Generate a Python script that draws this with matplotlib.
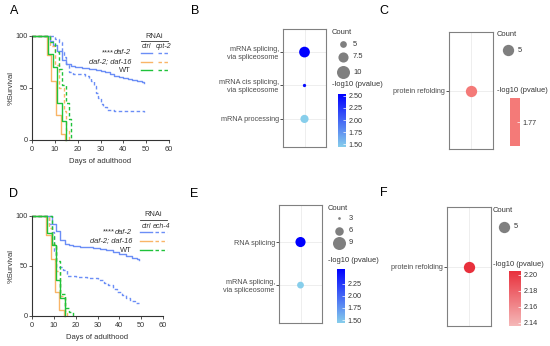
import matplotlib.pyplot as plt
import numpy as np
from matplotlib.colors import LinearSegmentedColormap, ListedColormap, Normalize
from matplotlib.cm import ScalarMappable

plt.rcParams['font.family'] = 'Liberation Sans'

W, H = 550, 346

# ---- survival data (panel A, RNAi cpt-2) ----
a_daf2_ctrl_days = [0, 8, 9, 11, 13, 15, 17, 19, 22, 25, 28, 30, 32, 34, 36, 38, 40, 42, 44, 46, 48, 49]
a_daf2_ctrl_surv = [100, 95, 91, 86, 77, 73, 71, 70, 69, 68, 67, 66, 65, 63, 62, 61, 60, 59, 58, 57, 56, 55]
a_daf2_cpt2_days = [0, 10, 12, 13, 14, 15, 16, 18, 23, 25, 26, 27, 28, 29, 30, 31, 33, 36, 49]
a_daf2_cpt2_surv = [100, 97, 94, 85, 80, 73, 65, 63, 62, 60, 57, 52, 45, 40, 35, 32, 29, 28, 27]
a_d16_ctrl_days = [0, 6.5, 8.5, 10.5, 12.5, 14.5]
a_d16_ctrl_surv = [100, 82, 57, 24, 6, 0]
a_d16_cpt2_days = [0, 8, 10, 12, 14, 15, 16]
a_d16_cpt2_surv = [100, 90, 72, 50, 28, 10, 0]
a_wt_ctrl_days = [0, 7, 9, 11, 13, 15]
a_wt_ctrl_surv = [100, 83, 70, 36, 18, 0]
a_wt_cpt2_days = [0, 8, 10, 12, 13, 15, 16, 17]
a_wt_cpt2_surv = [100, 94, 85, 68, 53, 36, 20, 0]

# ---- survival data (panel D, RNAi ech-4) ----
d_daf2_ctrl_days = [0, 9, 11, 13, 15, 17, 19, 22, 25, 28, 31, 34, 37, 40, 43, 46, 48, 49]
d_daf2_ctrl_surv = [100, 92, 85, 76, 72, 71, 70, 69, 69, 68, 67, 66, 64, 62, 60, 58, 57, 56]
d_daf2_ech4_days = [0, 8, 9, 10, 11, 14, 16, 20, 25, 30, 33, 35, 37, 39, 41, 43, 45, 47, 49]
d_daf2_ech4_surv = [100, 92, 84, 64, 49, 46, 40, 39, 38, 36, 33, 31, 27, 24, 21, 18, 15, 13, 13]
d_d16_ctrl_days = [0, 6.5, 8.5, 10.5, 12.5, 14.5]
d_d16_ctrl_surv = [100, 81, 57, 24, 6, 0]
d_d16_ech4_days = [0, 8, 9, 11, 13, 15, 16]
d_d16_ech4_surv = [100, 88, 72, 45, 20, 5, 0]
d_wt_ctrl_days = [0, 7, 9, 11, 13, 15]
d_wt_ctrl_surv = [100, 83, 71, 36, 18, 0]
d_wt_ech4_days = [0, 9, 10, 11, 13, 15, 17, 19]
d_wt_ech4_surv = [100, 80, 70, 55, 22, 8, 4, 0]

# ---- GO dot plots ----
b_terms = ["mRNA splicing,\nvia spliceosome", "mRNA cis splicing,\nvia spliceosome", "mRNA processing"]
b_count = [8, 3, 6]
b_pval = [2.54, 2.47, 1.44]
b_breaks = [5, 7.5, 10]
b_ticks = [1.50, 1.75, 2.00, 2.25, 2.50]

c_terms = ["protein refolding"]
c_count = [5]
c_pval = [1.77]

e_terms = ["RNA splicing", "mRNA splicing,\nvia spliceosome"]
e_count = [7, 5]
e_pval = [2.55, 1.44]
e_breaks = [3, 6, 9]
e_ticks = [1.50, 1.75, 2.00, 2.25]

f_terms = ["protein refolding"]
f_count = [5]
f_pval = [2.205]
f_range = [2.136, 2.205]
f_ticks = [2.14, 2.16, 2.18, 2.20]

BLUE = '#6B8EF6'
ORANGE = '#F9B567'
GREEN = '#1FC23A'
DASH = (0, (2.5, 1.8))
TXT = '#333333'

fig = plt.figure(figsize=(W / 100, H / 100), dpi=100)


def px_axes(l, t, r, b):
    return fig.add_axes([l / W, 1 - b / H, (r - l) / W, (b - t) / H])


def dsize(c, lo, hi, dmin, dmax):
    # diameter in px from count (area-style scale), returned as scatter size
    if hi == lo:
        d = dmax
    else:
        t = (np.sqrt(c) - np.sqrt(lo)) / (np.sqrt(hi) - np.sqrt(lo))
        d = dmin + (dmax - dmin) * t
    return (d * 0.72) ** 2


def survival(box, curves):
    ax = px_axes(*box)
    for days, surv, col, ls in curves:
        ax.step(days, surv, where='post', color=col, lw=1.0, ls=ls, clip_on=False)
    ax.set_xlim(0, 60)
    ax.set_ylim(0, 100)
    ax.set_xticks(range(0, 61, 10))
    ax.set_yticks([0, 50, 100])
    for s in ['top', 'right']:
        ax.spines[s].set_visible(False)
    for s in ['left', 'bottom']:
        ax.spines[s].set_linewidth(0.8)
        ax.spines[s].set_color(TXT)
    ax.tick_params(axis='x', length=2, width=0.6, labelsize=5.3, pad=2, colors=TXT)
    ax.tick_params(axis='y', length=2, width=0.6, labelsize=5.3, pad=1, colors=TXT)
    ax.set_xlabel("Days of adulthood", fontsize=5.5, labelpad=4, color=TXT)
    ax.set_ylabel("%Survival", fontsize=5.5, labelpad=0.5, color=TXT)
    return ax


survival((32, 36, 169, 140), [
    (a_daf2_ctrl_days, a_daf2_ctrl_surv, BLUE, '-'),
    (a_daf2_cpt2_days, a_daf2_cpt2_surv, BLUE, DASH),
    (a_d16_ctrl_days, a_d16_ctrl_surv, ORANGE, '-'),
    (a_d16_cpt2_days, a_d16_cpt2_surv, ORANGE, DASH),
    (a_wt_cpt2_days, a_wt_cpt2_surv, GREEN, DASH),
    (a_wt_ctrl_days, a_wt_ctrl_surv, GREEN, '-'),
])

survival((32, 216, 163, 316), [
    (d_daf2_ctrl_days, d_daf2_ctrl_surv, BLUE, '-'),
    (d_daf2_ech4_days, d_daf2_ech4_surv, BLUE, DASH),
    (d_d16_ctrl_days, d_d16_ctrl_surv, ORANGE, '-'),
    (d_d16_ech4_days, d_d16_ech4_surv, ORANGE, DASH),
    (d_wt_ech4_days, d_wt_ech4_surv, GREEN, DASH),
    (d_wt_ctrl_days, d_wt_ctrl_surv, GREEN, '-'),
])


def dotplot(box, terms, counts, pvals, cmap, norm, size_args, yl):
    ax = px_axes(*box)
    y = np.arange(len(terms), 0, -1)
    ax.axvline(1, color='#EBEBEB', lw=0.6, zorder=0)
    for yy in y:
        ax.axhline(yy, color='#EBEBEB', lw=0.6, zorder=0)
    ax.scatter(np.ones(len(y)), y, s=[dsize(c, *size_args) for c in counts],
               c=pvals, cmap=cmap, norm=norm, linewidths=0, zorder=3)
    ax.set_xlim(0.4, 1.6)
    ax.set_ylim(*yl)
    ax.set_xticks([])
    ax.set_yticks(y)
    ax.set_yticklabels(terms, fontsize=5.2, color='#4D4D4D')
    ax.tick_params(axis='y', length=2, width=0.6, color='#333333', pad=1)
    for s in ax.spines.values():
        s.set_color('#808080')
        s.set_linewidth(0.8)
    return ax


def colorbar(box, cmap, norm, ticks, labels=None):
    cax = px_axes(*box)
    cb = fig.colorbar(ScalarMappable(norm=norm, cmap=cmap), cax=cax)
    cb.outline.set_visible(False)
    cb.set_ticks(ticks)
    if labels is not None:
        cb.set_ticklabels(labels)
    else:
        cb.set_ticklabels(['%.2f' % t for t in ticks])
    cax.tick_params(length=2, width=0.5, color='white', direction='in', labelsize=5.2,
                    labelcolor=TXT, pad=2)
    return cb


blue_cmap = LinearSegmentedColormap.from_list('bl', ['#87CEEB', '#0000FF'])
b_norm = Normalize(1.44, 2.54)
dotplot((283, 29, 326, 147), b_terms, b_count, b_pval, blue_cmap, b_norm,
        (3, 10, 3.3, 13), (0.16, 3.69))
colorbar((338, 94, 346, 147), blue_cmap, b_norm, b_ticks)

e_norm = Normalize(1.44, 2.55)
dotplot((279, 205, 322, 323), e_terms, e_count, e_pval, blue_cmap, e_norm,
        (3, 9, 2.7, 13), (0.12, 2.86))
colorbar((337, 269, 345, 323), blue_cmap, e_norm, e_ticks)

c_cmap = ListedColormap(['#F47A78'])
c_norm = Normalize(1.76, 1.78)
dotplot((449, 32, 493, 149), c_terms, c_count, c_pval, c_cmap, c_norm,
        (5, 5, 11.3, 11.3), (0.4, 1.6))
colorbar((510, 98, 520, 146), c_cmap, c_norm, c_pval)

red_cmap = LinearSegmentedColormap.from_list('rd', ['#F5B8B8', '#E8303C'])
f_norm = Normalize(*f_range)
dotplot((447, 207, 491, 326), f_terms, f_count, f_pval, red_cmap, f_norm,
        (5, 5, 11.3, 11.3), (0.4, 1.6))
colorbar((509, 271, 521, 326), red_cmap, f_norm, f_ticks)

# ---- overlay for legends and panel letters (pixel coords) ----
ov = fig.add_axes([0, 0, 1, 1])
ov.set_xlim(0, W)
ov.set_ylim(H, 0)
ov.axis('off')

for lab, x, y in [('A', 14, 11), ('B', 195, 11), ('C', 384, 11),
                  ('D', 14, 194), ('E', 194, 194), ('F', 384, 193)]:
    ov.text(x, y, lab, fontsize=9, ha='center', va='center')

fs = 5.4


def surv_legend(gene, xr, yhead, yrow, lx, dx):
    ov.text((lx[0] + dx[1]) / 2, yhead, 'RNAi', fontsize=fs, ha='center', va='center', color=TXT)
    ov.plot([lx[0], dx[1]], [yhead + 4.5, yhead + 4.5], color=TXT, lw=0.6)
    ov.text((lx[0] + lx[1]) / 2, yhead + 11, 'ctrl', fontsize=fs - 0.4, ha='center', va='center',
            style='italic', color=TXT)
    ov.text((dx[0] + dx[1]) / 2 + 1, yhead + 11, gene, fontsize=fs - 0.4, ha='center', va='center',
            style='italic', color=TXT)
    t = ov.text(xr, yrow[0], 'daf-2', fontsize=fs, ha='right', va='center', style='italic', color=TXT)
    ov.annotate('****', xy=(0, 0.5), xycoords=t, fontsize=fs, ha='right', va='center', color=TXT)
    ov.text(xr, yrow[1], 'daf-2; daf-16', fontsize=fs, ha='right', va='center', style='italic', color=TXT)
    ov.text(xr, yrow[2], 'WT', fontsize=fs, ha='right', va='center', color=TXT)
    for yy, col in zip(yrow, [BLUE, ORANGE, GREEN]):
        ov.plot(lx, [yy, yy], color=col, lw=1.0)
        ov.plot(dx, [yy, yy], color=col, lw=1.0, ls=DASH)


surv_legend('cpt-2', 131, 36, [53, 62, 70], [141, 152], [158, 168])
surv_legend('ech-4', 132, 215, [232, 241, 250], [140, 152], [155, 167])


def size_legend(x0, ytitle, ys, breaks, size_args, ylog):
    ov.text(x0, ytitle, 'Count', fontsize=fs, ha='left', va='center', color=TXT)
    for yy, b in zip(ys, breaks):
        ov.scatter(x0 + 11, yy, s=dsize(b, *size_args), color='#7F7F7F', linewidths=0)
        ov.text(x0 + 21, yy, ('%g' % b), fontsize=fs, ha='left', va='center', color=TXT)
    ov.text(x0, ylog, '-log10 (pvalue)', fontsize=fs, ha='left', va='center', color=TXT)


size_legend(332, 32, [44, 57, 72], b_breaks, (3, 10, 3.3, 13), 85)
size_legend(328, 209, [218, 231, 243], e_breaks, (3, 9, 2.7, 13), 261)
size_legend(497, 34, [50], [5], (5, 5, 11.3, 11.3), 91)
size_legend(493, 211, [227], [5], (5, 5, 11.3, 11.3), 264)

fig.savefig('out.png', dpi=100)
